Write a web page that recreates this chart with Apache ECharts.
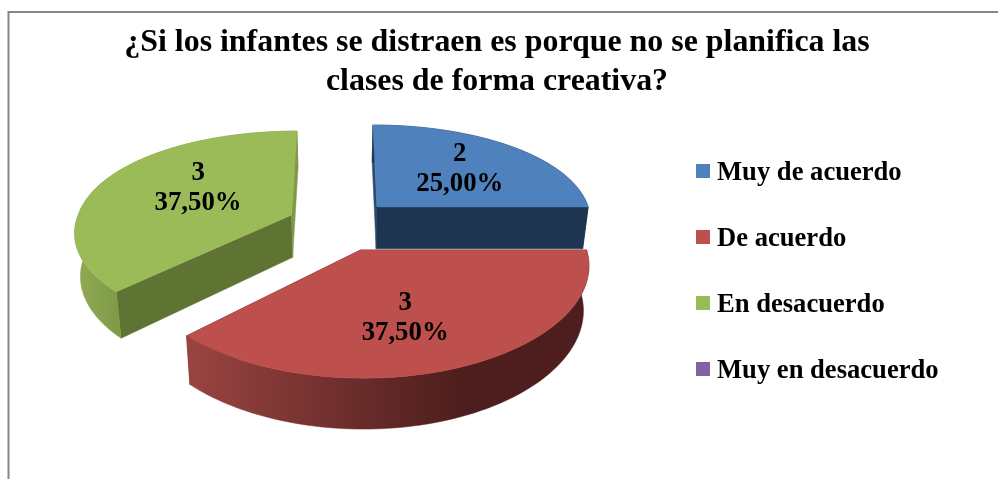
<!DOCTYPE html>
<html>
<head>
<meta charset="utf-8">
<style>
  html, body { margin: 0; padding: 0; background: #fff; }
  #chart { width: 998px; height: 479px; }
</style>
<script src="https://cdn.jsdelivr.net/npm/echarts@6/dist/echarts.min.js"></script>
</head>
<body>
<div id="chart"></div>
<script>
const titleText = "¿Si los infantes se distraen es porque no se planifica las\nclases de forma creativa?";
const categories = ["Muy de acuerdo", "De acuerdo", "En desacuerdo", "Muy en desacuerdo"];
const values = [2, 3, 3, 0];
const total = values.reduce((a, b) => a + b, 0);

const topColors = ["#4f81bd", "#bd4f4c", "#9bbb59", "#8064a2"];
const startFaceColors = ["#2b4a70", "#4f1f1e", "#5f7332", "#5f4a7a"];
const endFaceColors = ["#1f3450", "#4f1f1e", "#7e9a48", "#5f4a7a"];
const rimColors = [
  ["#1f3450", "#1f3450"],
  ["#9a4441", "#4d1e1d"],
  ["#90ab52", "#7d9846"],
  ["#5f4a7a", "#5f4a7a"],
];
const rimRange = [[375, 590], [187, 460], [75, 125], [300, 400]];
// drawing order back to front: green, blue, red
const sliceZ = [2, 3, 1, 4];
const sliceShiftX = [0, 0, 5, 0];
const sliceScaleX = [1, 1.015, 1, 1];
const sliceSkewFront = [0, 0, 7, 0];
const labelNudge = [[6, -3], [-8, 9], [11, -7], [0, 0]];

// perspective of the pie plane, fitted on the picture
const vanishX = 338;
const horizonY = -583;
const radiusX = 216;
const invCenter = 0.0012378;
const invStep = 0.0001531;
const invCurve = 0.0000048;
const explode = 0.261;
const depthY = 0.053;
const depthX = 0.978;
const font = "'Liberation Serif', 'Times New Roman', serif";

function project(u, v, bottom) {
  const yp = 1 / (invCenter - invStep * v - invCurve * v * v);
  let x = radiusX * u * yp * invCenter;
  let y = yp;
  if (bottom) {
    x *= depthX;
    y *= 1 + depthY;
  }
  return [vanishX + x, horizonY + y];
}

function renderSlice(index, api) {
  const value = api.value(0);
  if (!value) {
    return { type: "group", children: [] };
  }
  const before = values.slice(0, index).reduce((a, b) => a + b, 0);
  const start = (before / total) * Math.PI * 2;
  const end = ((before + value) / total) * Math.PI * 2;
  const mid = (start + end) / 2;
  const ou = explode * Math.sin(mid);
  const ov = -explode * Math.cos(mid);
  const pt = (r, a, bottom) => {
    const front = Math.max(0, -r * Math.cos(a));
    const p = project(ou + r * Math.sin(a), ov - r * Math.cos(a), bottom);
    return [
      vanishX + (p[0] - vanishX) * sliceScaleX[index] + sliceShiftX[index] - sliceSkewFront[index] * front,
      p[1],
    ];
  };

  const topArc = [];
  const bottomArc = [];
  const steps = 72;
  for (let i = 0; i <= steps; i++) {
    const a = start + ((end - start) * i) / steps;
    topArc.push(pt(1, a, false));
    bottomArc.push(pt(1, a, true));
  }
  const rim = rimRange[index];
  const rimFill = new echarts.graphic.LinearGradient(
    rim[0], 0, rim[1], 0,
    [
      { offset: 0, color: rimColors[index][0] },
      { offset: 1, color: rimColors[index][1] },
    ],
    true
  );
  const poly = (points, fill, z2) => ({
    type: "polygon",
    z2: z2,
    shape: { points: points },
    style: { fill: fill, stroke: fill, lineWidth: 0.5 },
  });
  const labelPos = pt(0.55, mid, false);
  const percent = ((value / total) * 100).toFixed(2).replace(".", ",") + "%";
  return {
    type: "group",
    children: [
      poly([pt(0, 0, false), pt(1, start, false), pt(1, start, true), pt(0, 0, true)], startFaceColors[index], 1),
      poly([pt(0, 0, false), pt(1, end, false), pt(1, end, true), pt(0, 0, true)], endFaceColors[index], 1),
      poly(topArc.concat(bottomArc.slice().reverse()), rimFill, 2),
      poly([pt(0, 0, false)].concat(topArc), topColors[index], 3),
      {
        type: "text",
        z2: 4,
        style: {
          x: labelPos[0] + labelNudge[index][0],
          y: labelPos[1] + labelNudge[index][1],
          text: value + "\n" + percent,
          align: "center",
          verticalAlign: "middle",
          fill: "#000",
          font: "bold 26.8px " + font,
          lineHeight: 30,
        },
      },
    ],
  };
}

const chart = echarts.init(document.getElementById("chart"), null, { renderer: "canvas" });
chart.setOption({
  animation: false,
  backgroundColor: "#fff",
  color: topColors,
  graphic: [
    {
      type: "polyline",
      silent: true,
      shape: { points: [[8.5, 479], [8.5, 12], [998, 12]] },
      style: { stroke: "#868686", lineWidth: 2, fill: null },
    },
  ],
  title: {
    text: titleText,
    left: 492,
    top: 18,
    textAlign: "center",
    textStyle: {
      fontFamily: font,
      fontWeight: "bold",
      fontSize: 31.9,
      lineHeight: 39,
      color: "#000",
    },
  },
  legend: {
    orient: "vertical",
    left: 696,
    top: 154,
    padding: 0,
    data: categories,
    icon: "rect",
    itemWidth: 14,
    itemHeight: 14,
    itemGap: 32,
    formatter: "{t|{name}}",
    textStyle: {
      rich: {
        t: {
          fontFamily: font,
          fontWeight: "bold",
          fontSize: 26.6,
          color: "#000",
          height: 30,
          lineHeight: 30,
          padding: [4, 0, 0, 2],
        },
      },
    },
    selectedMode: false,
  },
  series: categories.map((name, i) => ({
    type: "custom",
    name: name,
    coordinateSystem: "none",
    z: sliceZ[i],
    silent: true,
    data: [[values[i]]],
    itemStyle: { color: topColors[i] },
    renderItem: (params, api) => renderSlice(i, api),
  })),
});
</script>
</body>
</html>
